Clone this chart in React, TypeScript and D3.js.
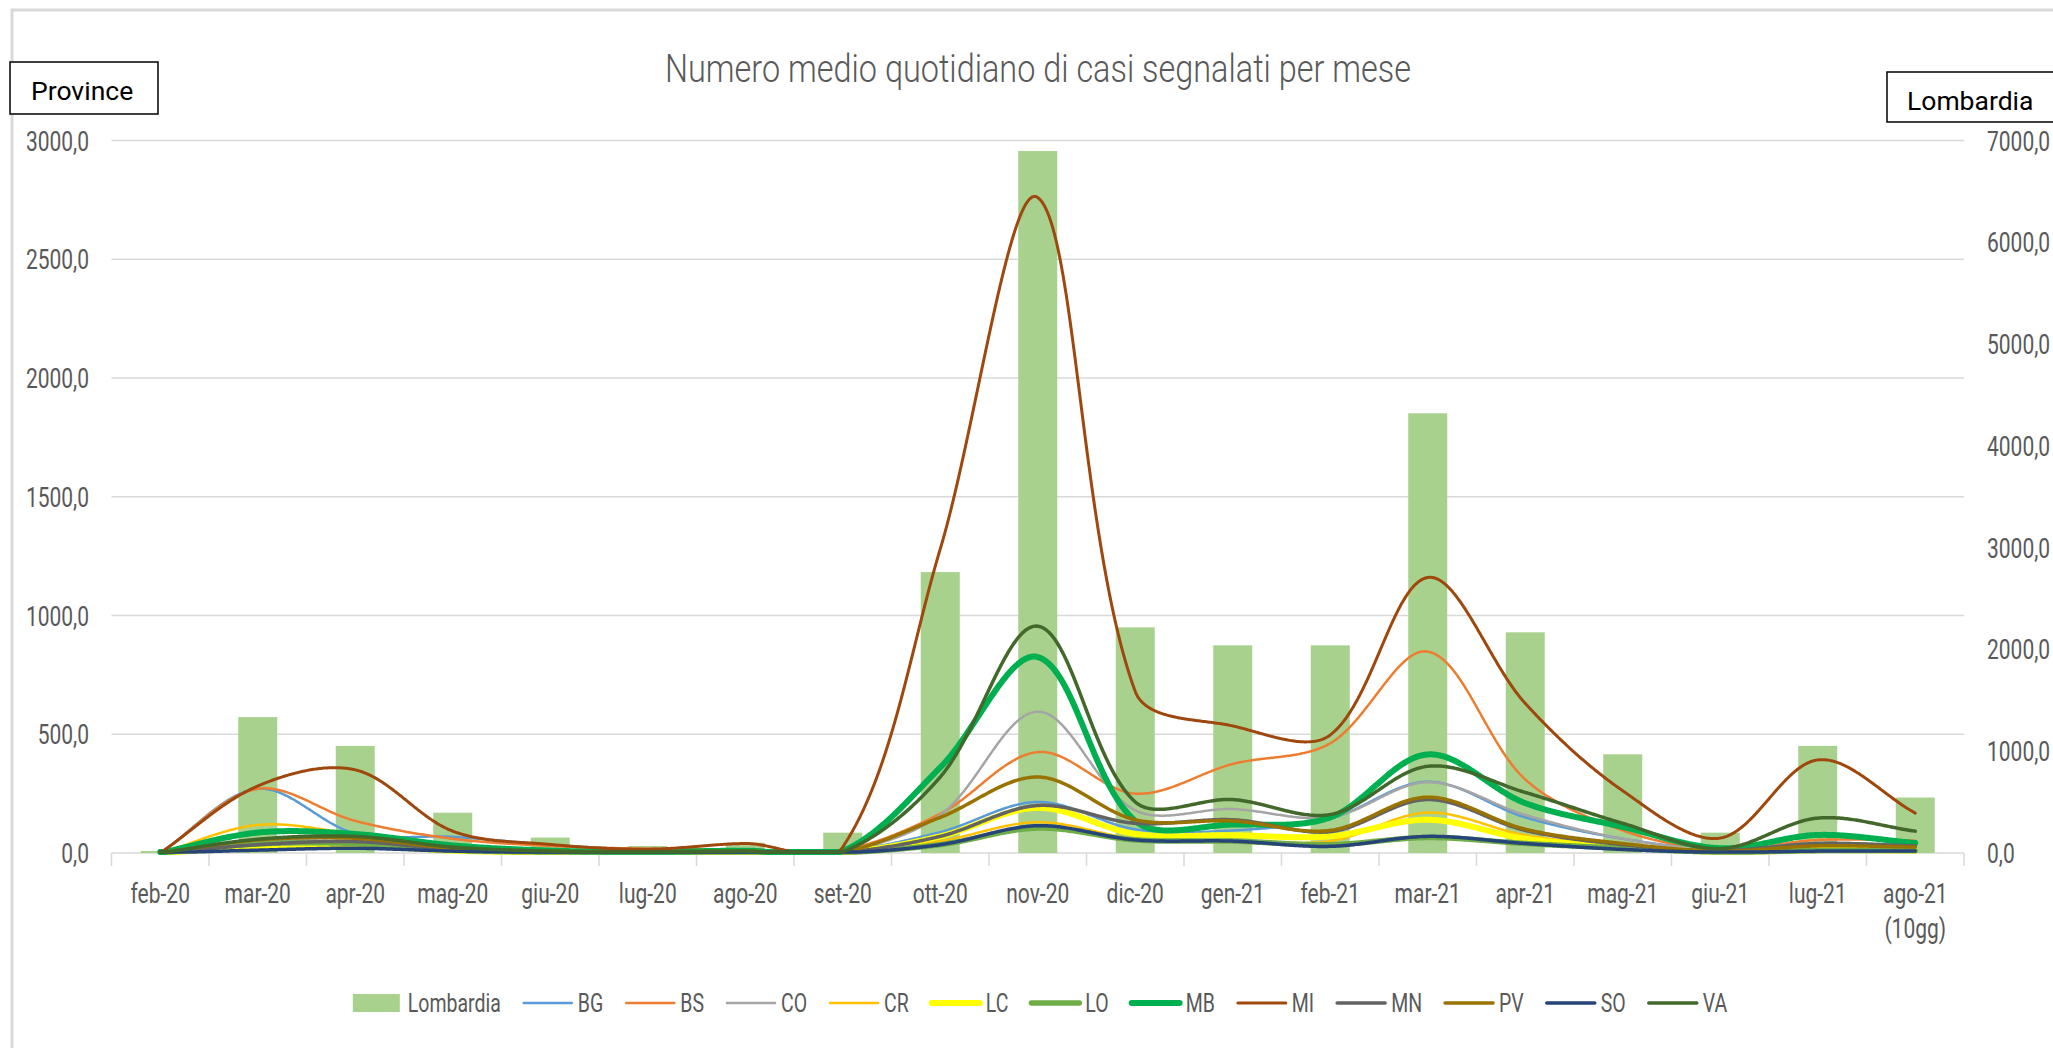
import React, { useEffect, useRef } from 'react';
import * as d3 from 'd3';

// months on the x axis ("\n" = second line)
const months = ['feb-20', 'mar-20', 'apr-20', 'mag-20', 'giu-20', 'lug-20', 'ago-20', 'set-20', 'ott-20',
  'nov-20', 'dic-20', 'gen-21', 'feb-21', 'mar-21', 'apr-21', 'mag-21', 'giu-21', 'lug-21', 'ago-21\n(10gg)'];

// Lombardia (bars, right axis)
const lombardia = [20, 1335, 1052, 396, 152, 69, 101, 200, 2760, 6897, 2217, 2040, 2040, 4320, 2168, 970, 200, 1052, 545];

// provinces (lines, left axis)
const BG = [0, 270, 82, 68, 34, 14, 10, 8, 88, 215, 100, 95, 145, 300, 150, 60, 15, 40, 30];
const BS = [0, 270, 135, 60, 30, 18, 15, 12, 165, 425, 250, 375, 462, 848, 310, 95, 15, 55, 52];
const CO = [0, 45, 62, 28, 8, 4, 6, 5, 160, 595, 180, 185, 150, 298, 160, 60, 14, 42, 32];
const CR = [0, 118, 80, 28, 6, 3, 5, 3, 50, 130, 60, 55, 50, 170, 75, 30, 5, 25, 20];
const LC = [0, 25, 32, 10, 3, 2, 4, 2, 70, 190, 80, 75, 70, 140, 60, 25, 5, 12, 10];
const LO = [0, 38, 40, 12, 4, 2, 3, 2, 35, 105, 55, 50, 35, 65, 40, 20, 4, 10, 10];
const MB = [0, 86, 80, 32, 10, 5, 10, 8, 360, 825, 135, 120, 150, 415, 210, 110, 20, 76, 42];
const MI = [0, 282, 350, 92, 36, 16, 40, 25, 1280, 2760, 680, 535, 497, 1160, 630, 262, 63, 392, 168];
const MN = [0, 35, 48, 15, 5, 3, 5, 3, 70, 200, 125, 140, 90, 225, 95, 35, 10, 40, 30];
const PV = [0, 55, 62, 20, 8, 4, 8, 4, 150, 320, 140, 135, 95, 235, 100, 40, 8, 30, 25];
const SO = [0, 12, 20, 8, 3, 1, 3, 1, 35, 115, 55, 50, 28, 70, 40, 15, 3, 8, 8];
const VA = [0, 58, 70, 25, 8, 5, 8, 5, 320, 955, 215, 225, 162, 365, 255, 125, 18, 147, 92];

const seriesNames = ['BG', 'BS', 'CO', 'CR', 'LC', 'LO', 'MB', 'MI', 'MN', 'PV', 'SO', 'VA'];
const seriesValues = [BG, BS, CO, CR, LC, LO, MB, MI, MN, PV, SO, VA];
const seriesColors = ['#5B9BD5', '#ED7D31', '#A5A5A5', '#FFC000', '#FFFF00', '#70AD47', '#00B050',
  '#9E480E', '#636363', '#997300', '#264478', '#43682B'];
const seriesWidths = [2.5, 2.5, 2.5, 2.5, 6, 5.5, 6, 3, 3.5, 3.5, 3.5, 3.5];

const leftTicks = [0, 500, 1000, 1500, 2000, 2500, 3000];
const rightTicks = [0, 1000, 2000, 3000, 4000, 5000, 6000, 7000];

const title = 'Numero medio quotidiano di casi segnalati per mese';

const W = 2053;
const H = 1048;
const plot = { left: 111.5, right: 1964, top: 140.5, bottom: 853 };
const FONT = "Roboto, 'Open Sans', sans-serif";
const STRETCH = 1.36; // the picture's text is tall and narrow
const GRID = '#D9D9D9';
const TXT = '#595959';

const it = d3.formatLocale({ decimal: ',', thousands: '.', grouping: [3], currency: ['€', ''] });
const fmt = it.format('.1f');

// Excel-like smoothing: bezier control arms weighted by neighbouring chord lengths
function excelSmooth(pts: [number, number][]) {
  const p = d3.path();
  const n = pts.length;
  const dist = (a: [number, number], b: [number, number]) => Math.hypot(b[0] - a[0], b[1] - a[1]);
  const t = 1 / 3;
  p.moveTo(pts[0][0], pts[0][1]);
  for (let i = 0; i < n - 1; i++) {
    const p0 = pts[Math.max(0, i - 1)];
    const p1 = pts[i];
    const p2 = pts[i + 1];
    const p3 = pts[Math.min(n - 1, i + 2)];
    const d01 = dist(p0, p1);
    const d12 = dist(p1, p2);
    const d23 = dist(p2, p3);
    const f1 = d01 + d12 > 0 ? (t * d12) / (d01 + d12) : 0;
    const f2 = d12 + d23 > 0 ? (t * d12) / (d12 + d23) : 0;
    p.bezierCurveTo(
      p1[0] + (p2[0] - p0[0]) * f1, p1[1] + (p2[1] - p0[1]) * f1,
      p2[0] - (p3[0] - p1[0]) * f2, p2[1] - (p3[1] - p1[1]) * f2,
      p2[0], p2[1]
    );
  }
  return p.toString();
}

export default function App() {
  const ref = useRef<SVGSVGElement>(null);

  useEffect(() => {
    const svg = d3.select(ref.current);
    svg.selectAll('*').remove();

    const x = d3.scaleBand<string>()
      .domain(months)
      .range([plot.left, plot.right])
      .paddingInner(0.6)
      .paddingOuter(0.3);
    const cx = (m: string) => (x(m) as number) + x.bandwidth() / 2;
    const yL = d3.scaleLinear().domain([0, 3000]).range([plot.bottom, plot.top]);
    const yR = d3.scaleLinear().domain([0, 7000]).range([plot.bottom, plot.top]);

    svg.append('rect').attr('width', W).attr('height', H).attr('fill', '#fff');

    // chart frame (top and left edge visible)
    svg.append('path')
      .attr('d', `M12,${H}V10H${W}`)
      .attr('fill', 'none').attr('stroke', GRID).attr('stroke-width', 3);

    // stretched text helper
    const label = (g: any, tx: number, ty: number, str: string, size: number, anchor: string, color = TXT, sy = STRETCH) =>
      g.append('text')
        .attr('transform', `translate(${tx},${ty}) scale(1,${sy})`)
        .attr('text-anchor', anchor)
        .attr('font-family', FONT)
        .attr('font-size', size)
        .attr('fill', color)
        .text(str);

    // gridlines
    svg.append('g').selectAll('line').data(leftTicks).join('line')
      .attr('x1', plot.left).attr('x2', plot.right)
      .attr('y1', d => yL(d)).attr('y2', d => yL(d))
      .attr('stroke', GRID).attr('stroke-width', 1.5);

    // category ticks
    const step = x.step();
    const bounds = d3.range(months.length + 1).map(i => plot.left + i * step);
    svg.append('g').selectAll('line').data(bounds).join('line')
      .attr('x1', d => d).attr('x2', d => d)
      .attr('y1', plot.bottom).attr('y2', plot.bottom + 13)
      .attr('stroke', GRID).attr('stroke-width', 1.5);

    // axis labels
    const axL = svg.append('g');
    leftTicks.forEach(t => label(axL, 89, yL(t) + 10, fmt(t), 21, 'end'));
    const axR = svg.append('g');
    rightTicks.forEach(t => label(axR, 1987, yR(t) + 10, fmt(t), 21, 'start'));
    const axX = svg.append('g');
    months.forEach(m => {
      m.split('\n').forEach((part, k) => label(axX, cx(m), 903 + k * 35, part, 21, 'middle'));
    });

    // bars
    svg.append('g').selectAll('rect').data(lombardia).join('rect')
      .attr('x', (d, i) => x(months[i]) as number)
      .attr('width', x.bandwidth())
      .attr('y', d => yR(d))
      .attr('height', d => yR(0) - yR(d))
      .attr('fill', '#A9D18E');

    // smoothed lines, held inside the plot area like Excel does
    const straight = d3.line<[number, number]>();
    const tmp = svg.append('path').attr('fill', 'none');
    const lines = svg.append('g');
    seriesValues.forEach((vals, s) => {
      const pts = vals.map((v, i) => [cx(months[i]), yL(v)] as [number, number]);
      tmp.attr('d', excelSmooth(pts));
      const node = tmp.node() as SVGPathElement;
      const len = node.getTotalLength();
      const sampled: [number, number][] = d3.range(0, len, 1.5).concat([len]).map(l => {
        const q = node.getPointAtLength(l);
        return [q.x, Math.min(plot.bottom - 1, Math.max(plot.top, q.y))];
      });
      lines.append('path')
        .attr('d', straight(sampled))
        .attr('fill', 'none')
        .attr('stroke', seriesColors[s])
        .attr('stroke-width', seriesWidths[s])
        .attr('stroke-linejoin', 'round')
        .attr('stroke-linecap', 'round');
    });
    tmp.remove();

    // title
    svg.append('text')
      .attr('transform', `translate(1038,82) scale(1,1.33)`)
      .attr('text-anchor', 'middle')
      .attr('font-family', FONT)
      .attr('font-weight', 300)
      .attr('font-size', 29)
      .attr('fill', TXT)
      .attr('textLength', 746)
      .attr('lengthAdjust', 'spacingAndGlyphs')
      .text(title);

    // axis name boxes
    svg.append('rect').attr('x', 10).attr('y', 62).attr('width', 148).attr('height', 52)
      .attr('fill', '#fff').attr('stroke', '#000').attr('stroke-width', 1.5);
    label(svg, 31, 100, 'Province', 26.5, 'start', '#000', 1);
    svg.append('rect').attr('x', 1887).attr('y', 72).attr('width', 180).attr('height', 50)
      .attr('fill', '#fff').attr('stroke', '#000').attr('stroke-width', 1.5);
    label(svg, 1907, 110, 'Lombardia', 26.5, 'start', '#000', 1);

    // legend
    const legend = svg.append('g');
    const ly = 1003;
    const items = [{ name: 'Lombardia', color: '#A9D18E', w: 0, bar: true }]
      .concat(seriesNames.map((n, i) => ({ name: n, color: seriesColors[i], w: seriesWidths[i], bar: false })));
    let cursor = 0;
    const placed: { item: any; x0: number }[] = [];
    items.forEach(item => {
      const tt = label(legend, 0, 0, item.name, 19.5, 'start');
      const tw = (tt.node() as SVGTextElement).getComputedTextLength();
      tt.remove();
      placed.push({ item, x0: cursor });
      cursor += 50 + 5 + tw + 22;
    });
    const total = cursor - 22;
    const start = 1040 - total / 2;
    placed.forEach(({ item, x0 }) => {
      const lx = start + x0;
      if (item.bar) {
        legend.append('rect').attr('x', lx).attr('y', ly - 9).attr('width', 47).attr('height', 18).attr('fill', item.color);
      } else {
        legend.append('line').attr('x1', lx + 1).attr('x2', lx + 49).attr('y1', ly).attr('y2', ly)
          .attr('stroke', item.color).attr('stroke-width', item.w).attr('stroke-linecap', 'round');
      }
      label(legend, lx + 55, ly + 9, item.name, 19.5, 'start');
    });
  }, []);

  return (
    <svg ref={ref} width={W} height={H} style={{ position: 'absolute', left: 0, top: 0, display: 'block' }} />
  );
}
